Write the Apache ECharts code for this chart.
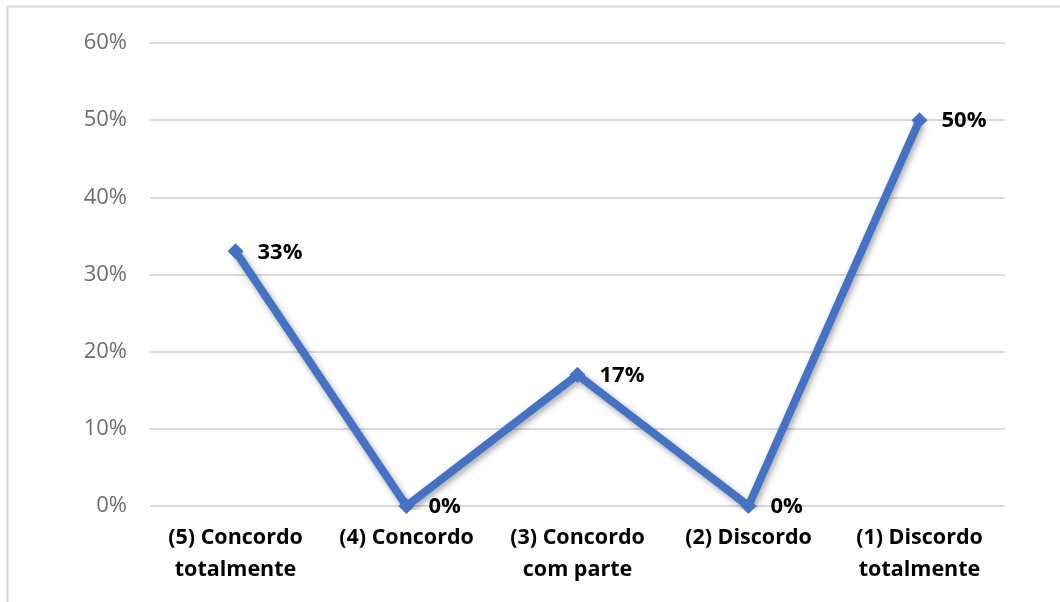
<!DOCTYPE html>
<html>
<head>
<meta charset="utf-8">
<script src="https://cdn.jsdelivr.net/npm/echarts@6/dist/echarts.min.js"></script>
<style>
  html, body { margin: 0; padding: 0; background: #fff; }
  #chart { width: 1060px; height: 602px; }
</style>
</head>
<body>
<div id="chart"></div>
<script>
// Response categories (Likert scale) and share of answers, in percent
const categories = [
  '(5) Concordo\ntotalmente',
  '(4) Concordo',
  '(3) Concordo\ncom parte',
  '(2) Discordo',
  '(1) Discordo\ntotalmente'
];
const shares = [33, 0, 17, 0, 50];
const yTicks = { min: 0, max: 60, step: 10 };

const FONT = '"Open Sans", "Noto Sans", sans-serif';

const chart = echarts.init(document.getElementById('chart'));
chart.setOption({
  animation: false,
  backgroundColor: '#ffffff',
  graphic: [{
    type: 'rect',
    shape: { x: 7.5, y: 6.5, width: 1100, height: 700 },
    style: { fill: 'none', stroke: '#d9d9d9', lineWidth: 2 },
    silent: true,
    z: -1
  }],
  grid: { left: 150, right: 55, top: 43, bottom: 96 },
  xAxis: {
    type: 'category',
    data: categories,
    boundaryGap: true,
    axisLine: { show: false },
    axisTick: { show: false },
    axisLabel: {
      color: '#000000',
      fontFamily: FONT,
      fontWeight: 'bold',
      fontSize: 21.5,
      lineHeight: 32,
      margin: 16,
      interval: 0
    }
  },
  yAxis: {
    type: 'value',
    min: yTicks.min,
    max: yTicks.max,
    interval: yTicks.step,
    axisLine: { show: false },
    axisTick: { show: false },
    splitLine: { lineStyle: { color: '#d9d9d9', width: 2 } },
    axisLabel: {
      color: '#6e6e6e',
      fontFamily: FONT,
      fontSize: 22,
      margin: 23,
      formatter: v => v + '%'
    }
  },
  series: [{
    type: 'line',
    data: shares,
    symbol: 'diamond',
    symbolSize: 16,
    itemStyle: { color: '#4472c4' },
    lineStyle: {
      color: '#4472c4',
      width: 8,
      shadowColor: 'rgba(0,0,0,0.35)',
      shadowBlur: 6,
      shadowOffsetX: 2,
      shadowOffsetY: 3
    },
    label: {
      show: true,
      position: 'right',
      distance: 14,
      offset: [0, 1],
      color: '#000000',
      fontFamily: FONT,
      fontWeight: 'bold',
      fontSize: 22,
      formatter: p => p.value + '%'
    }
  }]
});
</script>
</body>
</html>
